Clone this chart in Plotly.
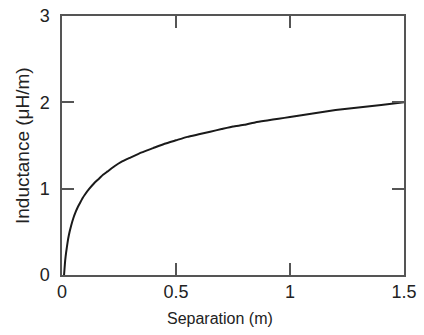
import plotly.graph_objects as go

separation = [0.009, 0.011, 0.014, 0.018, 0.024, 0.03, 0.04, 0.05, 0.06, 0.07, 0.08, 0.09,
              0.1, 0.12, 0.14, 0.16, 0.18, 0.2, 0.23, 0.26, 0.3, 0.35, 0.4, 0.45, 0.5,
              0.55, 0.6, 0.65, 0.7, 0.75, 0.8, 0.85, 0.9, 0.95, 1.0, 1.1, 1.2, 1.3, 1.4, 1.5]
inductance = [0.0, 0.07, 0.17, 0.26, 0.37, 0.46, 0.57, 0.66, 0.73, 0.79, 0.84, 0.89,
              0.93, 1.0, 1.06, 1.11, 1.16, 1.2, 1.26, 1.31, 1.36, 1.42, 1.47, 1.52, 1.56,
              1.6, 1.63, 1.66, 1.69, 1.72, 1.74, 1.77, 1.79, 1.81, 1.83, 1.87, 1.91, 1.94, 1.97, 2.0]

x_ticks = [0, 0.5, 1, 1.5]
x_ticklabels = ["0", "0.5", "1", "1.5"]
y_ticks = [0, 1, 2, 3]
y_ticklabels = ["0", "1", "2", "3"]

FONT = "Liberation Sans, Arial, sans-serif"
AX = "#555555"
TXT = "#222222"

fig = go.Figure()
fig.add_trace(go.Scatter(x=separation, y=inductance, mode="lines",
                         line=dict(color="#1a1a1a", width=2, shape="spline", smoothing=0.4),
                         showlegend=False, hoverinfo="skip"))

axis_common = dict(showgrid=False, zeroline=False, showline=True, linecolor=AX, linewidth=1.5,
                   mirror="ticks", ticks="inside", ticklen=12, tickwidth=1.5, tickcolor=AX,
                   automargin=False,
                   tickfont=dict(family=FONT, size=18, color=TXT))

fig.update_xaxes(range=[0, 1.5], tickvals=x_ticks, ticktext=x_ticklabels, ticklabelstandoff=0,
                 **axis_common)
fig.update_yaxes(range=[0, 3], tickvals=y_ticks, ticktext=y_ticklabels, ticklabelstandoff=7,
                 **axis_common)

L, R, T, B = 62, 20, 16, 60
fig.update_layout(
    width=424, height=335,
    margin=dict(l=L, r=R, t=T, b=B),
    paper_bgcolor="white", plot_bgcolor="white",
    font=dict(family=FONT, color=TXT),
)
plot_w = 424 - L - R
plot_h = 335 - T - B
fig.add_annotation(text="Separation (m)", xref="paper", yref="paper",
                   x=(220 - L) / plot_w, y=-(318 - (335 - B)) / plot_h,
                   xanchor="center", yanchor="middle", showarrow=False,
                   font=dict(size=16, family=FONT, color=TXT))
fig.add_annotation(text="Inductance (μH/m)", xref="paper", yref="paper",
                   x=-(L - 22) / plot_w, y=((335 - B) - 146) / plot_h,
                   xanchor="center", yanchor="middle", textangle=-90, showarrow=False,
                   font=dict(size=19, family=FONT, color=TXT))

fig.write_html("out.html", config={"displayModeBar": False},
               post_script="document.body.style.margin='0';document.body.style.padding='0';")
